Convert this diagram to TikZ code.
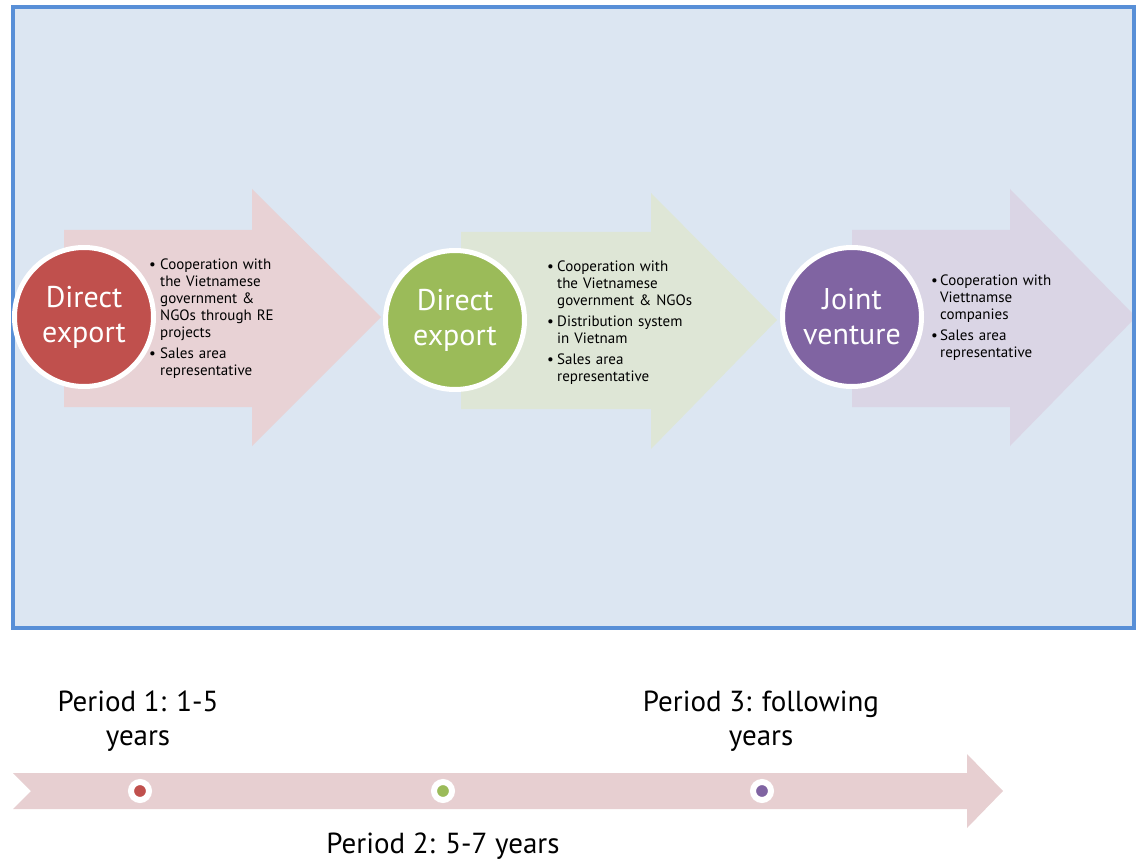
\documentclass[tikz,border=0pt]{standalone}
\usepackage{fontspec}
\setmainfont{PT Sans}
\definecolor{bgblue}{HTML}{DCE6F2}
\definecolor{borderblue}{HTML}{588FD7}
\definecolor{arrowpink}{HTML}{E8D2D5}
\definecolor{arrowgreen}{HTML}{DEE6D6}
\definecolor{arrowpurple}{HTML}{DAD5E5}
\definecolor{tlpink}{HTML}{E7CFD1}
\definecolor{stagered}{HTML}{C0504D}
\definecolor{stagegreen}{HTML}{9BBB59}
\definecolor{stagepurple}{HTML}{8064A2}
\newcommand{\bitem}[2]{\par\noindent\makebox[#1][l]{\textbullet}\parbox[t]{140pt}{\raggedright #2\strut}\par\prevdepth=\dp\strutbox}
\newcommand{\bgap}{\vspace{4pt}}
\begin{document}
\begin{tikzpicture}[x=1pt,y=-1pt,
  stage/.style={circle, draw=white, line width=5pt, minimum size=139pt, inner sep=0pt,
    text=white, align=center, font=\fontsize{30}{35}\selectfont},
  bulltext/.style={anchor=north west, inner sep=0pt, align=left, text width=155pt,
    font=\fontsize{15}{17}\selectfont},
  dot/.style={circle, draw=white, line width=6pt, minimum size=18pt, inner sep=0pt},
  period/.style={anchor=north, inner sep=0pt, align=center,
    font=\fontsize{29}{34}\selectfont}]
\useasboundingbox (0,0) rectangle (1141,861);
% background panel
\fill[bgblue] (13,7.5) rectangle (1134,628);
% stage arrows
\fill[arrowpink] (64,230) -- (252,230) -- (252,189) -- (381,317) -- (252,446) -- (252,407) -- (64,407) -- cycle;
\fill[arrowgreen] (461,232) -- (651,232) -- (651,193) -- (777,320) -- (651,449) -- (651,409) -- (461,409) -- cycle;
\fill[arrowpurple] (852,230) -- (1010,230) -- (1010,189) -- (1136,317) -- (1010,446) -- (1010,407) -- (852,407) -- cycle;
% panel border
\draw[borderblue, line width=4pt] (13,7.5) rectangle (1134,628);
% stage circles
\node[stage, fill=stagered] (c1) at (84,317) {Direct\\export};
\node[stage, fill=stagegreen] (c2) at (455,320) {Direct\\export};
\node[stage, fill=stagepurple] (c3) at (852,317) {Joint\\venture};
% bullet texts
\node[bulltext] (t1) at (149,252) {\bitem{11pt}{Cooperation with\\the Vietnamese\\government \&\\NGOs through RE\\projects}\bgap\bitem{11pt}{Sales area\\representative}};
\node[bulltext] (t2) at (547,254) {\bitem{10pt}{Cooperation with\\the Vietnamese\\government \& NGOs}\bgap\bitem{10pt}{Distribution system\\in Vietnam}\bgap\bitem{10pt}{Sales area\\representative}};
\node[bulltext] (t3) at (931,268) {\bitem{9pt}{Cooperation with\\Viettnamse\\companies}\bgap\bitem{9pt}{Sales area\\representative}};
% timeline arrow
\fill[tlpink] (13,773) -- (967,773) -- (967,754) -- (1003,791) -- (967,828) -- (967,809) -- (13,809) -- (31,791) -- cycle;
\node[dot, fill=stagered] (d1) at (140,791) {};
\node[dot, fill=stagegreen] (d2) at (443,791) {};
\node[dot, fill=stagepurple] (d3) at (762,791) {};
% period labels
\node[period] (p1) at (138,691) {Period 1: 1-5\\years};
\node[period] (p2) at (443,833) {Period 2: 5-7 years};
\node[period] (p3) at (761,691) {Period 3: following\\years};
\end{tikzpicture}
\end{document}
